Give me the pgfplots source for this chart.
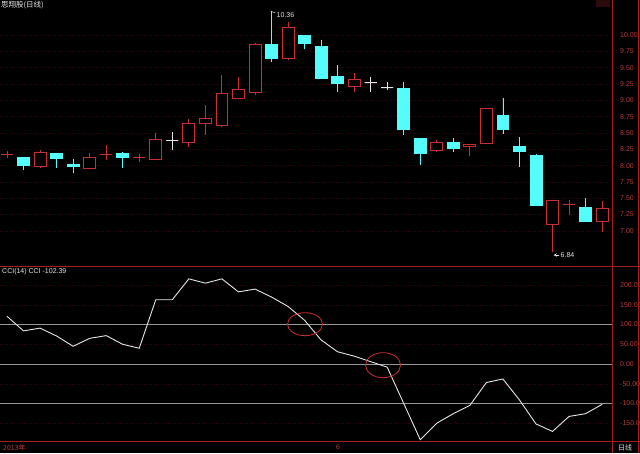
\documentclass[border=0pt]{standalone}
\usepackage{pgfplots}
\pgfplotsset{compat=1.18}
\usepgfplotslibrary{statistics}
\usepackage{fontspec}
\setmainfont{Liberation Sans}
\newfontfamily\cjk{Noto Sans CJK SC}

\definecolor{candred}{RGB}{200,48,48}
\definecolor{candcyan}{RGB}{84,252,252}
\definecolor{axred}{RGB}{165,30,30}
\definecolor{labred}{RGB}{185,60,60}
\definecolor{faint}{RGB}{42,10,10}
\definecolor{txt}{RGB}{230,230,230}
\definecolor{refgray}{RGB}{150,150,150}

% one candle: style, position, low, body bottom, body top, high
\newcommand\candle[6]{%
  \addplot[#1, boxplot prepared={draw position=#2, lower whisker=#3,
    lower quartile=#4, median=#4, upper quartile=#5, upper whisker=#6}]
    coordinates {};}

\pgfplotsset{
  rc/.style={draw=candred, fill=black, line width=0.8pt},
  cc/.style={draw=candcyan, fill=candcyan, line width=0.8pt},
  wc/.style={draw=txt, fill=txt, line width=0.8pt},
  panel/.style={scale only axis, width=612pt, xmin=0.5765, xmax=37.6,
    anchor=south west,
    axis line style={draw=none}, major tick length=0pt, xtick=\empty,
    yticklabel pos=right, ymajorgrids, grid style={faint, dotted},
    yticklabel style={font=\fontsize{7}{8}\selectfont, text=labred,
      anchor=west, inner sep=0pt, xshift=8pt},
    /pgf/number format/.cd, fixed, fixed zerofill, precision=2,
    assume math mode=true},
}

\begin{document}
\begin{tikzpicture}[x=1pt,y=1pt]
\fill[black] (0,0) rectangle (640,453);

% price panel
\begin{axis}[at={(0pt,186pt)}, height=267pt,
  ymin=6.447, ymax=10.536,
  ytick={7,7.25,7.5,7.75,8,8.25,8.5,8.75,9,9.25,9.5,9.75,10},
  boxplot/draw direction=y, boxplot/box extend=0.72, boxplot/whisker extend=0,
  panel]
\candle{rc}{1}{8.12}{8.17}{8.17}{8.23}
\candle{cc}{2}{7.93}{8.01}{8.13}{8.13}
\candle{rc}{3}{7.96}{7.99}{8.20}{8.24}
\candle{cc}{4}{7.96}{8.11}{8.18}{8.19}
\candle{cc}{5}{7.88}{7.99}{8.02}{8.10}
\candle{rc}{6}{7.95}{7.96}{8.13}{8.20}
\candle{rc}{7}{8.09}{8.17}{8.17}{8.32}
\candle{cc}{8}{7.96}{8.13}{8.19}{8.21}
\candle{rc}{9}{8.05}{8.12}{8.12}{8.17}
\candle{rc}{10}{8.09}{8.10}{8.40}{8.50}
\candle{wc}{11}{8.24}{8.39}{8.39}{8.52}
\candle{rc}{12}{8.29}{8.35}{8.65}{8.71}
\candle{rc}{13}{8.47}{8.65}{8.72}{8.93}
\candle{rc}{14}{8.60}{8.61}{9.11}{9.39}
\candle{rc}{15}{9.02}{9.03}{9.17}{9.35}
\candle{rc}{16}{9.08}{9.12}{9.86}{9.87}
\candle{cc}{17}{9.59}{9.64}{9.86}{10.36}
\candle{rc}{18}{9.63}{9.64}{10.12}{10.20}
\candle{cc}{19}{9.78}{9.87}{10.00}{10.00}
\candle{cc}{20}{9.33}{9.34}{9.83}{9.93}
\candle{cc}{21}{9.13}{9.26}{9.36}{9.54}
\candle{rc}{22}{9.13}{9.21}{9.32}{9.42}
\candle{wc}{23}{9.13}{9.27}{9.27}{9.36}
\candle{wc}{24}{9.16}{9.19}{9.19}{9.28}
\candle{cc}{25}{8.47}{8.55}{9.18}{9.28}
\candle{cc}{26}{8.01}{8.19}{8.42}{8.42}
\candle{rc}{27}{8.21}{8.24}{8.36}{8.39}
\candle{cc}{28}{8.21}{8.27}{8.35}{8.43}
\candle{rc}{29}{8.14}{8.29}{8.33}{8.33}
\candle{rc}{30}{8.33}{8.34}{8.87}{8.88}
\candle{cc}{31}{8.48}{8.55}{8.77}{9.03}
\candle{cc}{32}{7.98}{8.21}{8.29}{8.44}
\candle{cc}{33}{7.38}{7.39}{8.15}{8.17}
\candle{rc}{34}{6.68}{7.10}{7.47}{7.48}
\candle{rc}{35}{7.24}{7.41}{7.41}{7.47}
\candle{cc}{36}{7.15}{7.15}{7.36}{7.50}
\candle{rc}{37}{6.99}{7.15}{7.35}{7.46}
\draw[txt, line width=0.5pt] (axis cs:17,10.36) -- ++(4pt,-1.5pt)
  node[anchor=west, inner sep=1pt, text=txt, font=\fontsize{7}{8}\selectfont, yshift=-2pt] {10.36};
\draw[txt, line width=0.5pt, -stealth] ([xshift=7pt]axis cs:34,6.63) -- ([xshift=1pt]axis cs:34,6.63);
\node[anchor=west, inner sep=1pt, text=txt, font=\fontsize{7}{8}\selectfont]
  at ([xshift=7pt]axis cs:34,6.63) {6.84};
\end{axis}

% CCI panel
\begin{axis}[at={(0pt,12pt)}, height=173pt,
  ymin=-195.3, ymax=243.5, ytick={-150,-100,-50,0,50,100,150,200},
  panel]
\addplot[refgray, line width=0.7pt] coordinates {(0.5765,100) (37.6,100)};
\addplot[refgray, line width=0.7pt] coordinates {(0.5765,0) (37.6,0)};
\addplot[refgray, line width=0.7pt] coordinates {(0.5765,-100) (37.6,-100)};
\addplot[txt, line width=0.9pt] coordinates {
  (1,121) (2,84) (3,91) (4,71) (5,45) (6,65) (7,72) (8,50) (9,40)
  (10,163) (11,163) (12,216) (13,205) (14,216) (15,183) (16,190) (17,170)
  (18,146) (19,111) (20,61) (21,31) (22,20) (23,6) (24,-8) (25,-100)
  (26,-192) (27,-150) (28,-126) (29,-105) (30,-47) (31,-38) (32,-91)
  (33,-152) (34,-171) (35,-133) (36,-126) (37,-102.39)};
\draw[candred, line width=0.8pt] (axis cs:19.03,101) ellipse [x radius=17.5pt, y radius=11.5pt];
\draw[candred, line width=0.8pt] (axis cs:23.75,-3) ellipse [x radius=17.5pt, y radius=12.5pt];
\end{axis}

% frame lines
\draw[axred, line width=1pt] (0,186) -- (640,186);
\draw[axred, line width=1pt] (0,12) -- (640,12);
\draw[axred, line width=1pt] (612,0) -- (612,453);
\draw[axred, line width=0.6pt] (638.5,0) -- (638.5,453);
\fill[faint] (596,446) rectangle (610,453);

% texts
\node[anchor=north west, inner sep=0pt, text=txt, font=\cjk\fontsize{7.5}{8}\selectfont] at (1,452) {思翔股(日线)};
\node[anchor=north west, inner sep=0pt, text=txt, font=\fontsize{7}{8}\selectfont] at (2,184.5) {CCI(14) CCI -102.39};
\node[anchor=west, inner sep=0pt, text=labred, font=\cjk\fontsize{7}{8}\selectfont] at (3,5.5) {2013年};
\node[anchor=west, inner sep=0pt, text=labred, font=\fontsize{7}{8}\selectfont] at (336,5.5) {6};
\node[anchor=west, inner sep=0pt, text=txt, font=\cjk\fontsize{7}{8}\selectfont] at (618,5.5) {日线};

\pgfresetboundingbox
\path[use as bounding box] (0,0) rectangle (640,453);
\end{tikzpicture}
\end{document}
